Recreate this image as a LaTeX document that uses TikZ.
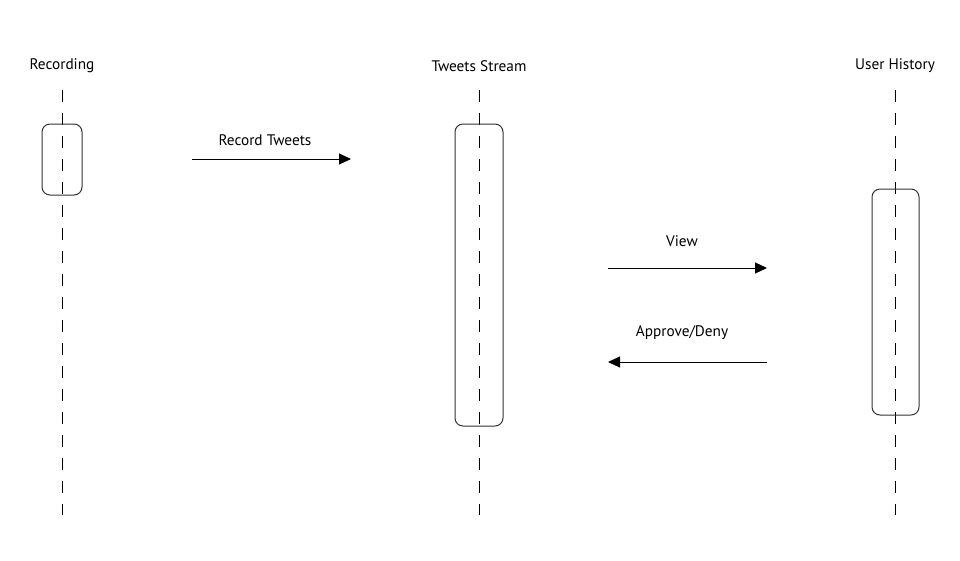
\documentclass[tikz,border=0pt]{standalone}
\usepackage{fontspec}
\setmainfont{PT Sans}
\usetikzlibrary{arrows.meta}
\begin{document}
\begin{tikzpicture}[x=1pt,y=-1pt,
  lifeline/.style={draw=black,line width=0.9pt,dash pattern=on 12pt off 11pt},
  actbox/.style={draw=black!80,line width=1pt,rounded corners=8pt,fill=none},
  msg/.style={draw=black,line width=1pt,-{Triangle[length=12pt,width=11pt]}},
  lbl/.style={font=\fontsize{15.3pt}{18pt}\selectfont,inner sep=0pt},
]
\useasboundingbox (0,0) rectangle (960,560);
% headings
\node[lbl] (hR) at (62,66) {Recording};
\node[lbl] (hT) at (479,66) {Tweets Stream};
\node[lbl] (hU) at (895,66) {User History};
% lifelines
\coordinate (rTop) at (62,90);  \coordinate (rBot) at (62,515);
\coordinate (tTop) at (479,90); \coordinate (tBot) at (479,515);
\coordinate (uTop) at (895,90); \coordinate (uBot) at (895,515);
\draw[lifeline] (rTop) -- (rBot);
\draw[lifeline] (tTop) -- (tBot);
\draw[lifeline] (uTop) -- (uBot);
% activation boxes
\draw[actbox] (42,124) rectangle (82,195);
\draw[actbox] (455,124) rectangle (503,426);
\draw[actbox] (872,189) rectangle (919,415);
% messages
\coordinate (m1a) at (192,159); \coordinate (m1b) at (351,159);
\coordinate (m2a) at (608,268); \coordinate (m2b) at (767,268);
\coordinate (m3a) at (767,362); \coordinate (m3b) at (608,362);
\draw[msg] (m1a) -- (m1b);
\draw[msg] (m2a) -- (m2b);
\draw[msg] (m3a) -- (m3b);
\node[lbl] (l1) at (265,140) {Record Tweets};
\node[lbl] (l2) at (682,241) {View};
\node[lbl] (l3) at (682,333) {Approve/Deny};
\end{tikzpicture}
\end{document}
